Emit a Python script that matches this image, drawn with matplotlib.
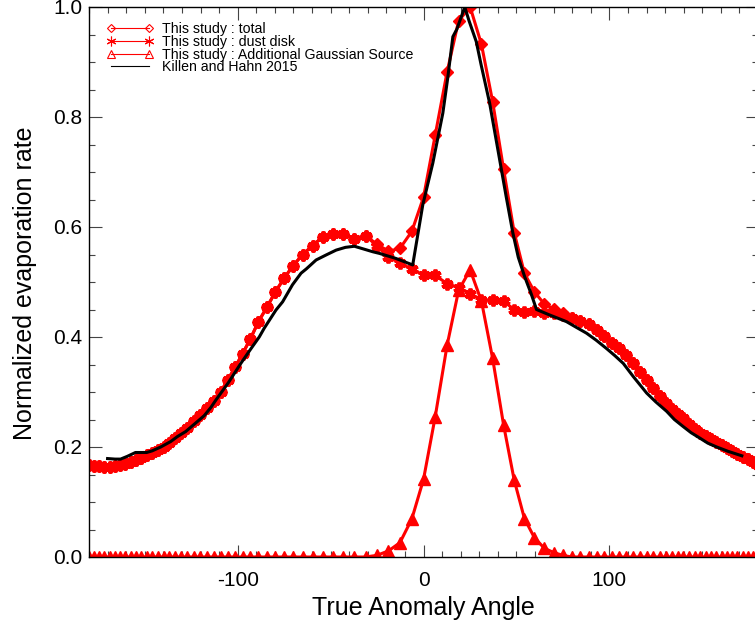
import numpy as np
import matplotlib
matplotlib.use('Agg')
import matplotlib.pyplot as plt
from matplotlib.lines import Line2D
from matplotlib.ticker import MultipleLocator

plt.rcParams['font.family'] = 'Liberation Sans'
plt.rcParams['axes.unicode_minus'] = False

# ================================
# Data
# ================================
# true anomaly angle of each model sample (one per day of the orbit)
taa = [-180.0, -177.2, -174.5, -171.7, -168.9, -166.1, -163.3, -160.5, -157.6, -154.8,
       -151.9, -148.9, -146.0, -142.9, -139.9, -136.7, -133.5, -130.3, -127.0, -123.6,
       -120.1, -116.5, -112.9, -109.2, -105.3, -101.4, -97.3, -93.1, -88.8, -84.3,
       -79.7, -75.0, -70.1, -65.0, -59.7, -54.3, -48.8, -43.1, -37.2, -31.2,
       -25.1, -18.9, -12.7, -6.3, 0.0, 6.3, 12.7, 18.9, 25.1, 31.2,
       37.2, 43.1, 48.8, 54.3, 59.7, 65.0, 70.1, 75.0, 79.7, 84.3,
       88.8, 93.1, 97.3, 101.4, 105.3, 109.2, 112.9, 116.5, 120.1, 123.6,
       127.0, 130.3, 133.5, 136.7, 139.9, 142.9, 146.0, 148.9, 151.9, 154.8,
       157.6, 160.5, 163.3, 166.1, 168.9, 171.7, 174.5, 177.2, 180.0]

dust = [0.167, 0.166, 0.165, 0.164, 0.164, 0.165, 0.167, 0.169, 0.172, 0.176,
        0.180, 0.185, 0.190, 0.195, 0.200, 0.208, 0.216, 0.225, 0.235, 0.247,
        0.259, 0.271, 0.284, 0.300, 0.322, 0.345, 0.370, 0.397, 0.428, 0.454,
        0.482, 0.507, 0.530, 0.550, 0.566, 0.582, 0.588, 0.587, 0.579, 0.584,
        0.566, 0.545, 0.535, 0.523, 0.513, 0.512, 0.497, 0.490, 0.479, 0.467,
        0.467, 0.465, 0.450, 0.446, 0.447, 0.444, 0.443, 0.440, 0.435, 0.430,
        0.424, 0.413, 0.401, 0.390, 0.380, 0.367, 0.352, 0.336, 0.321, 0.307,
        0.292, 0.280, 0.270, 0.260, 0.252, 0.242, 0.233, 0.226, 0.220, 0.215,
        0.209, 0.203, 0.198, 0.192, 0.187, 0.182, 0.178, 0.173, 0.168]

gauss = [0.0, 0.0, 0.0, 0.0, 0.0, 0.0, 0.0, 0.0, 0.0, 0.0,
         0.0, 0.0, 0.0, 0.0, 0.0, 0.0, 0.0, 0.0, 0.0, 0.0,
         0.0, 0.0, 0.0, 0.0, 0.0, 0.0, 0.0, 0.0, 0.0, 0.0,
         0.0, 0.0, 0.0, 0.0, 0.0, 0.0, 0.0, 0.0, 0.0, 0.0,
         0.003, 0.011, 0.026, 0.069, 0.141, 0.255, 0.385, 0.485, 0.522, 0.465,
         0.361, 0.240, 0.140, 0.070, 0.035, 0.016, 0.008, 0.003, 0.0, 0.0,
         0.0, 0.0, 0.0, 0.0, 0.0, 0.0, 0.0, 0.0, 0.0, 0.0,
         0.0, 0.0, 0.0, 0.0, 0.0, 0.0, 0.0, 0.0, 0.0, 0.0,
         0.0, 0.0, 0.0, 0.0, 0.0, 0.0, 0.0, 0.0, 0.0]

total = [0.167, 0.166, 0.165, 0.164, 0.164, 0.165, 0.167, 0.169, 0.172, 0.176,
         0.180, 0.185, 0.190, 0.195, 0.200, 0.208, 0.216, 0.225, 0.235, 0.247,
         0.259, 0.271, 0.284, 0.300, 0.322, 0.345, 0.370, 0.397, 0.428, 0.454,
         0.482, 0.507, 0.530, 0.550, 0.566, 0.582, 0.588, 0.587, 0.579, 0.584,
         0.569, 0.556, 0.561, 0.592, 0.654, 0.767, 0.882, 0.975, 1.000, 0.932,
         0.828, 0.705, 0.590, 0.516, 0.482, 0.460, 0.451, 0.443, 0.435, 0.430,
         0.424, 0.413, 0.401, 0.390, 0.380, 0.367, 0.352, 0.336, 0.321, 0.307,
         0.292, 0.280, 0.270, 0.260, 0.252, 0.242, 0.233, 0.226, 0.220, 0.215,
         0.209, 0.203, 0.198, 0.192, 0.187, 0.182, 0.178, 0.173, 0.168]

# Killen and Hahn 2015
kh_taa = [-170, -166, -163, -159.4, -155, -149, -146, -141.4, -136, -132.4,
          -128, -123.5, -118, -114.4, -111.8, -105, -98.3, -93, -88.4, -85.7,
          -79.4, -75.8, -70.5, -65.9, -63, -57.8, -52.5, -47, -42, -37.2,
          -27.3, -23.7, -15, -5.8, -0.4, 5, 10.4, 13, 15.8, 18,
          22.2, 24.5, 28.4, 31, 35.6, 41, 44.5, 48.1, 51, 54.4,
          58, 60.8, 67.9, 76.9, 82, 87.7, 93, 98.5, 103, 107.5,
          112.9, 120.1, 125, 130.8, 135, 139.8, 144, 148.8, 153, 157.8,
          164, 171.3]
kh_rate = [0.179, 0.178, 0.178, 0.183, 0.190, 0.190, 0.193, 0.200, 0.210, 0.219,
           0.228, 0.241, 0.257, 0.272, 0.285, 0.317, 0.352, 0.378, 0.400, 0.416,
           0.449, 0.464, 0.495, 0.516, 0.524, 0.540, 0.549, 0.558, 0.563, 0.565,
           0.555, 0.552, 0.543, 0.531, 0.640, 0.716, 0.807, 0.870, 0.946, 0.960,
           1.000, 0.975, 0.937, 0.895, 0.825, 0.722, 0.655, 0.589, 0.545, 0.510,
           0.478, 0.450, 0.440, 0.428, 0.418, 0.407, 0.394, 0.379, 0.366, 0.352,
           0.328, 0.298, 0.282, 0.265, 0.250, 0.237, 0.226, 0.216, 0.207, 0.200,
           0.192, 0.184]

labels = ['This study : total', 'This study : dust disk',
          'This study : Additional Gaussian Source', 'Killen and Hahn 2015']

# ================================
# Plot
# ================================
ASTER = (6, 2, 0)

fig = plt.figure(figsize=(7.55, 6.24), dpi=100)
ax = fig.add_axes([89 / 755, 67 / 624, 669 / 755, 550 / 624])

ax.plot(taa, total, color='red', lw=2.2, marker='D', ms=6.5, mfc='red', mec='red')
ax.plot(taa, dust, color='red', lw=2.2, marker=ASTER, ms=8.5, mew=2.8, mec='red')
ax.plot(taa, gauss, color='red', lw=2.2, marker='^', ms=8.5, mfc='red', mec='red')
ax.plot(kh_taa, kh_rate, color='black', lw=2.2)

ax.set_xlim(-180, 180)
ax.set_ylim(0, 1)
ax.xaxis.set_major_locator(MultipleLocator(100))
ax.xaxis.set_minor_locator(MultipleLocator(10))
ax.yaxis.set_major_locator(MultipleLocator(0.2))
ax.yaxis.set_minor_locator(MultipleLocator(0.05))
ax.yaxis.set_major_formatter(plt.FuncFormatter(lambda v, p: f'{v:.1f}'))

ax.tick_params(which='both', direction='in', top=True, right=True,
               width=0.8, color='#444444')
ax.tick_params(which='major', length=9, labelsize=15)
ax.tick_params(which='minor', length=4.5)
ax.tick_params(axis='x', which='major', pad=10)
ax.tick_params(axis='y', which='major', pad=5)
for s in ax.spines.values():
    s.set_linewidth(1.0)

ax.set_xlabel('True Anomaly Angle', fontsize=18)
ax.set_ylabel('Normalized evaporation rate', fontsize=18)
ax.xaxis.set_label_coords(0.5, -0.07)
ax.yaxis.set_label_coords(-0.078, 0.497)

# legend: thin lines, open symbols
handles = [
    Line2D([], [], color='red', lw=0.8, marker='D', ms=4.5, mfc='none', mec='red', mew=0.8),
    Line2D([], [], color='red', lw=0.8, marker=ASTER, ms=7, mec='red', mew=0.8),
    Line2D([], [], color='red', lw=0.8, marker='^', ms=6, mfc='none', mec='red', mew=0.8),
    Line2D([], [], color='black', lw=0.8),
]
ax.legend(handles, labels, loc='upper left', bbox_to_anchor=(0.027, 0.972),
          frameon=False, fontsize=10.2, numpoints=2, handlelength=3.25,
          handletextpad=0.6, labelspacing=-0.1, borderpad=0, borderaxespad=0)

fig.savefig('out.png', dpi=100)
